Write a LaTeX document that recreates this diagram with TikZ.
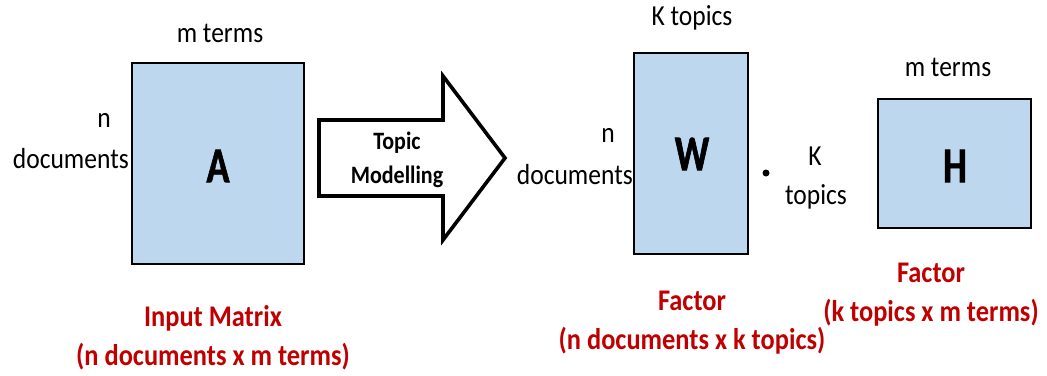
\documentclass[tikz,border=0pt]{standalone}
\usepackage{fontspec}
\setmainfont{Carlito}[FakeStretch=0.88]
\newfontfamily\heavyfont{Carlito}[UprightFont={* Bold}, FakeStretch=0.76, FakeBold=1.2]
\definecolor{boxblue}{HTML}{BDD7EE}
\definecolor{darkred}{HTML}{C00000}
\tikzset{
  mat/.style={draw=black, line width=1.6pt, fill=boxblue, inner sep=0pt},
  lbl/.style={inner sep=0pt, font=\fontsize{29}{35}\selectfont},
  big/.style={inner sep=0pt, font=\heavyfont\fontsize{50}{54}\selectfont},
  redcap/.style={inner sep=0pt, align=center, text=darkred, font=\fontsize{30}{39}\selectfont\bfseries},
}
\begin{document}
\begin{tikzpicture}[x=1pt,y=-1pt]
\useasboundingbox (0,0) rectangle (1047,375);
% matrices
\node[mat, minimum width=172pt, minimum height=201pt] (A) at (218,163.5) {};
\node[mat, minimum width=114pt, minimum height=201pt] (W) at (691,153.5) {};
\node[mat, minimum width=153pt, minimum height=129pt] (H) at (954.5,163.5) {};
\node[big] (Al) at (218,166) {A};
\node[big] (Wl) at (692,154) {W};
\node[big] (Hl) at (955,166) {H};
% arrow
\draw[line width=3.6pt, fill=white, line join=miter]
  (319,120) -- (443,120) -- (443,76) -- (505,158) -- (443,240) -- (443,196) -- (319,196) -- cycle;
\node[inner sep=0pt, align=center, font=\fontsize{25}{34}\selectfont\bfseries] (tm) at (397,160) {Topic\\Modelling};
% labels
\node[lbl] (mA) at (220,33) {m terms};
\node[lbl] (nA) at (104,120) {n};
\node[lbl, anchor=east] (dA) at (129,159) {documents};
\node[lbl] (kW) at (692,18) {K topics};
\node[lbl] (nW) at (608,135) {n};
\node[lbl, anchor=east] (dW) at (633,175) {documents};
\node[circle, fill=black, inner sep=0pt, minimum size=7pt] (dot) at (766,173) {};
\node[lbl] (kK) at (815,156) {K};
\node[lbl] (kT) at (816,197) {topics};
\node[lbl] (mH) at (948,67) {m terms};
% captions
\node[redcap] (cA) at (213,338) {Input Matrix\\(n documents x m terms)};
\node[redcap] (cW) at (692,323) {Factor\\(n documents x k topics)};
\node[redcap] (cH) at (931,295) {Factor\\(k topics x m terms)};
\end{tikzpicture}
\end{document}
